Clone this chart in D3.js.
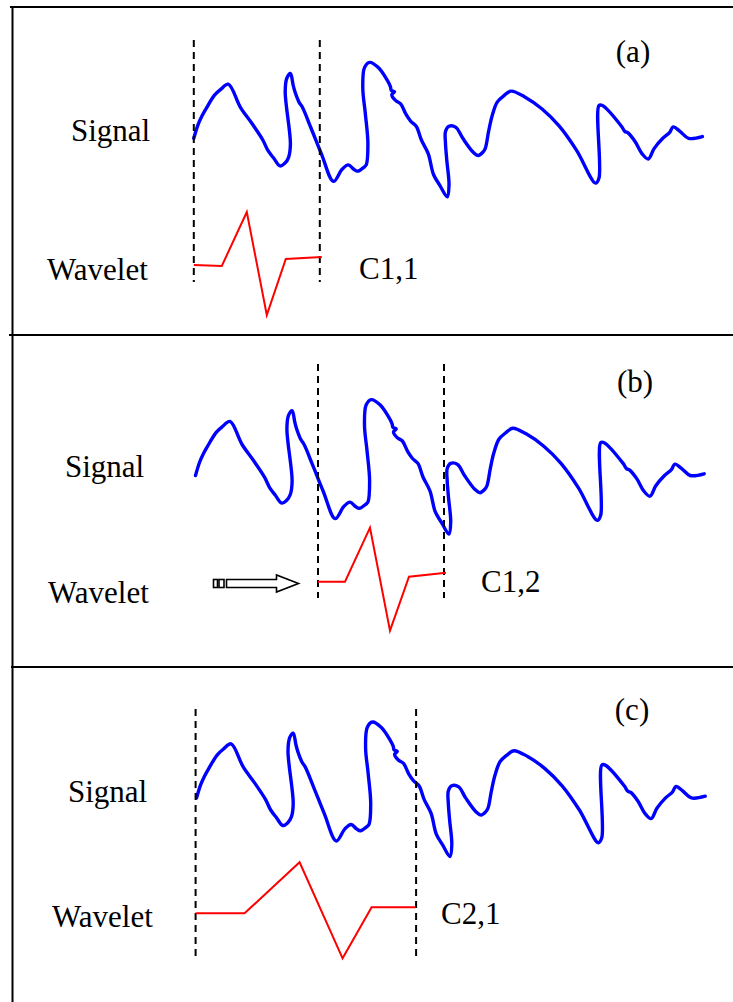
<!DOCTYPE html>
<html>
<head>
<meta charset="utf-8">
<script src="https://cdn.jsdelivr.net/npm/d3@7"></script>
<style>
  body { margin: 0; background: #fff; }
  svg text { font-family: "Liberation Serif", "Times New Roman", serif; fill: #000; }
</style>
</head>
<body>
<div id="chart"></div>
<script>
// signal shape: [time, amplitude], same in every panel
const signal = [
  [0,0],[4,13],[8,22],[12.1,29.3],[20.7,43.1],[27,49],[34.5,54.1],[46.6,31],[58,15],[69,-1.7],[74.1,-12.1],
  [80,-20],[86.2,-27.6],[91,-25],[94.8,-19],[96.6,-5.2],[91.4,46.6],[93.1,60.3],[96.6,64.8],[99.3,53.4],
  [101,47],[105.2,36.2],[108.6,31],[117.2,10.3],[127.6,-15.5],[139.7,-43.1],[148.3,-31],[154.5,-26.6],
  [160,-31],[163.8,-32.8],[170,-29],[172.4,-26.6],[174.1,-5.2],[171.5,25],[169,50],[170.7,70.7],
  [175.9,75.9],[184.5,70.7],[193.1,58.6],[196.6,51.7],[197.5,48],[200.7,46.6],[198,43.5],[201.7,37.9],
  [206.9,34.5],[212.1,24.1],[217,17],[222.4,12.1],[227.6,-1.7],[234.5,-15.5],[239.7,-36.2],[246,-47],
  [253.4,-58.6],[255.2,-46.6],[253,-22],[251.7,-5.2],[251.7,6.9],[255.2,12.1],[262.1,11],[269,0],
  [279.3,-13.8],[284.5,-17.2],[289,-14],[291.4,-10.3],[294.8,6.9],[298.3,22.4],[303.4,36.2],[310,42.5],
  [317.2,47.2],[331,41.4],[348.3,29.3],[365.5,12.1],[382.8,-12.1],[401.7,-44.8],[405.2,-39.7],
  [405.2,32.8],[408.6,32.8],[427.6,12.1],[431,6.9],[434.5,5.2],[441.4,-3.4],[448.3,-15.5],[454.5,-20.7],
  [460.3,-10.3],[469,0],[475.9,5.9],[479.3,11.4],[486.2,6.9],[494.8,0],[508.6,1.7]
];

// wavelets: [time from window start, amplitude]
const waveletA = [[0,0],[28,-1],[53,53],[73,-50],[92,6],[128,8]];
const waveletB = [[0,0],[27,0],[52,54],[72,-49],[91,5],[128,9]];
const waveletC = [[0,0],[49,0],[104,51],[147,-45],[176,6],[220,6]];
const wavelets = [waveletA, waveletB, waveletC];

// analysis window on the signal time axis
const windowStart = [0, 122.5, -1];
const windowEnd = [126, 248.5, 219.5];

const panelLabels = ["(a)", "(b)", "(c)"];
const coefLabels = ["C1,1", "C1,2", "C2,1"];

const W = 733, H = 1002;
const fontSize = 31;

// where each panel sits on the page
const layout = [
  { x0: 193.8, y0: 138.3, wy: 265,   dashTop: 40,  dashBot: 282, sigY: 141, wavY: 280, coefX: 359, coefY: 279, labX: 633, labY: 62 },
  { x0: 195.5, y0: 475.5, wy: 581.7, dashTop: 364, dashBot: 598, sigY: 477, wavY: 603, coefX: 481, coefY: 592, labX: 635, labY: 392 },
  { x0: 196.6, y0: 797.9, wy: 913.3, dashTop: 709, dashBot: 958, sigY: 802, wavY: 927, coefX: 441, coefY: 924, labX: 632, labY: 720 }
];
const textX = [{ s: 71, w: 47 }, { s: 65, w: 48 }, { s: 68, w: 52 }];

const svg = d3.select("#chart").append("svg")
  .attr("width", W).attr("height", H);

// frame
const frame = svg.append("g").attr("stroke", "#000").attr("stroke-width", 2);
frame.append("line").attr("x1", 10).attr("x2", W).attr("y1", 7).attr("y2", 7);
frame.append("line").attr("x1", 12.5).attr("x2", 12.5).attr("y1", 6).attr("y2", H);
frame.append("line").attr("x1", 9).attr("x2", W).attr("y1", 335).attr("y2", 335);
frame.append("line").attr("x1", 11).attr("x2", W).attr("y1", 667).attr("y2", 667);

layout.forEach((p, i) => {
  const g = svg.append("g");

  const x = d3.scaleLinear().domain([0, 100]).range([p.x0, p.x0 + 100]);
  const y = d3.scaleLinear().domain([-100, 100]).range([p.y0 + 100, p.y0 - 100]);

  // signal
  g.append("path")
    .datum(signal)
    .attr("d", d3.line().x(d => x(d[0])).y(d => y(d[1])).curve(d3.curveCatmullRom.alpha(0.5)))
    .attr("fill", "none")
    .attr("stroke", "#0000ff")
    .attr("stroke-width", 3.4)
    .attr("stroke-linejoin", "round")
    .attr("stroke-linecap", "round");

  // window edges
  [windowStart[i], windowEnd[i]].forEach(t => {
    g.append("line")
      .attr("x1", x(t)).attr("x2", x(t))
      .attr("y1", p.dashTop).attr("y2", p.dashBot)
      .attr("stroke", "#000")
      .attr("stroke-width", 2)
      .attr("stroke-dasharray", "7,5");
  });

  // wavelet
  const wy = d3.scaleLinear().domain([-100, 100]).range([p.wy + 100, p.wy - 100]);
  g.append("path")
    .datum(wavelets[i])
    .attr("d", d3.line().x(d => x(windowStart[i] + d[0])).y(d => wy(d[1])))
    .attr("fill", "none")
    .attr("stroke", "#ff0000")
    .attr("stroke-width", 2);

  g.append("text").attr("x", textX[i].s).attr("y", p.sigY)
    .attr("font-size", fontSize).text("Signal");
  g.append("text").attr("x", textX[i].w).attr("y", p.wavY)
    .attr("font-size", fontSize).text("Wavelet");
  g.append("text").attr("x", p.coefX).attr("y", p.coefY)
    .attr("font-size", fontSize).text(coefLabels[i]);
  g.append("text").attr("x", p.labX).attr("y", p.labY)
    .attr("text-anchor", "middle")
    .attr("font-size", fontSize).text(panelLabels[i]);
});

// shift arrow in panel (b)
const arrow = svg.append("g").attr("stroke", "#000").attr("fill", "#fff").attr("stroke-width", 1.6);
arrow.append("rect").attr("x", 213.5).attr("y", 579.5).attr("width", 4).attr("height", 8);
arrow.append("rect").attr("x", 219).attr("y", 579.5).attr("width", 5).attr("height", 8);
arrow.append("path")
  .attr("d", "M226.5,579.5 L276.5,579.5 L276.5,575 L298.5,583.5 L276.5,592 L276.5,587.5 L226.5,587.5 Z");
</script>
</body>
</html>
